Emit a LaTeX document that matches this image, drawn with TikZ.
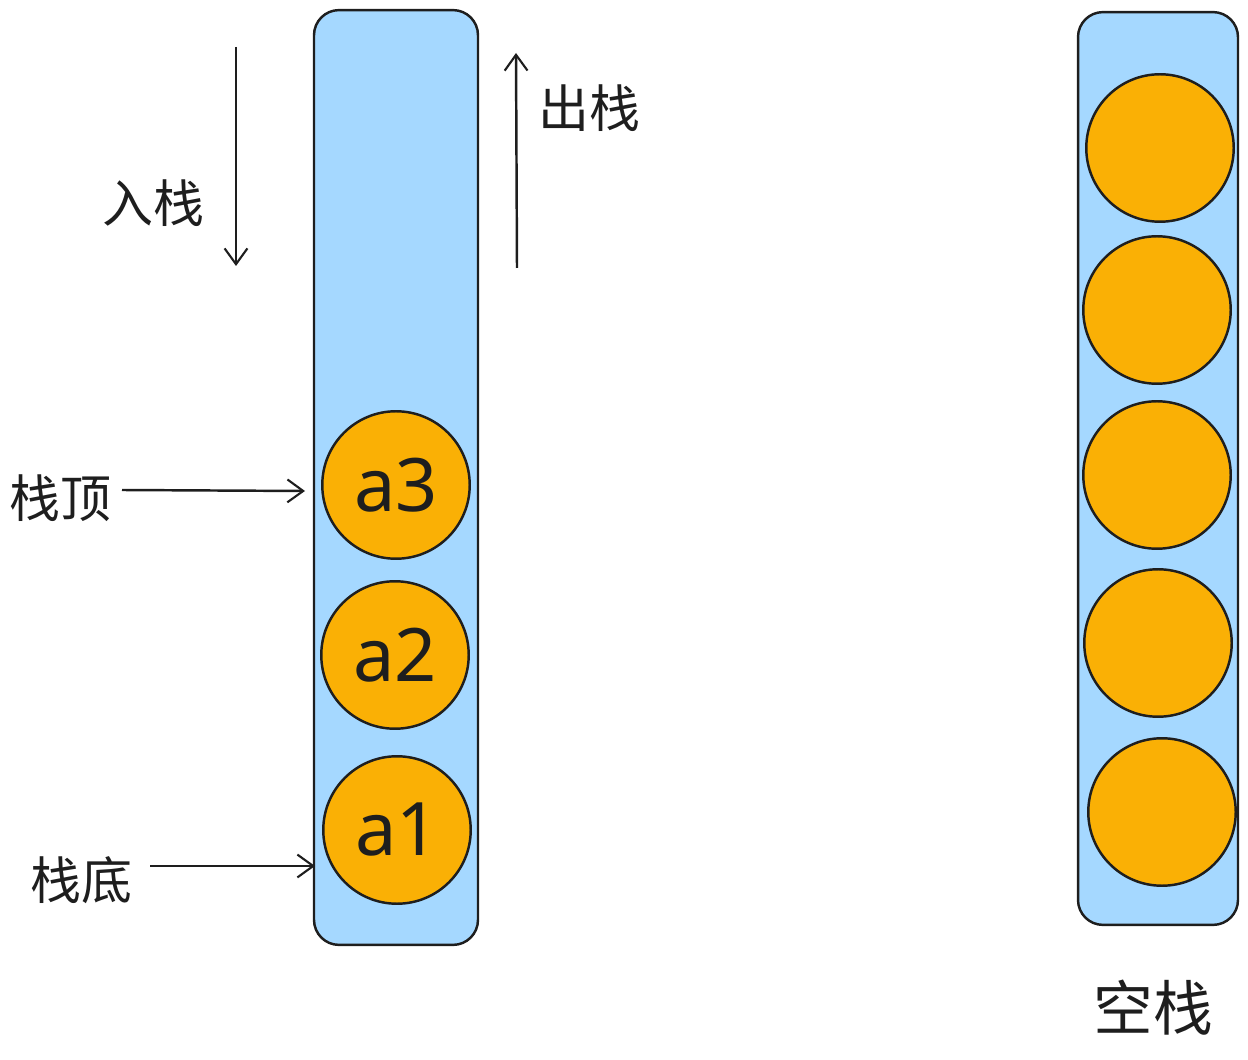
\documentclass[tikz,border=0pt]{standalone}
\usepackage{fontspec}
\newfontfamily\cjk{Noto Sans CJK SC}
\newfontfamily\handfont{Noto Sans}
\usetikzlibrary{arrows.meta}
\definecolor{stk}{HTML}{A5D8FF}
\definecolor{ball}{HTML}{FAB005}
\definecolor{ink}{HTML}{1E1E1E}
\tikzset{
  stackbox/.style={draw=ink, fill=stk, line width=1.4pt, rounded corners=0.5cm, inner sep=0pt},
  ballnode/.style={circle, draw=ink, fill=ball, line width=1.4pt, inner sep=0pt, minimum size=2.95cm, font=\handfont\bfseries\fontsize{42}{42}\selectfont, text=ink},
  arr/.style={draw=ink, line width=1.4pt, -{Straight Barb[length=9pt,width=13pt,line width=1.2pt]}},
  lbl/.style={font=\cjk\fontsize{29}{32}\selectfont, text=ink, inner sep=0pt},
}
\begin{document}
\begin{tikzpicture}[x=0.02cm, y=-0.02cm]
\useasboundingbox (0,0) rectangle (1248,1060);
% left stack
\node[stackbox, minimum width=3.28cm, minimum height=18.7cm] (stackL) at (396,477.5) {};
\node[ballnode] (a3) at (396,485) {a3};
\node[ballnode] (a2) at (395,655) {a2};
\node[ballnode] (a1) at (397,830) {a1};
% right stack
\node[stackbox, minimum width=3.2cm, minimum height=18.26cm] (stackR) at (1158,468.5) {};
\node[ballnode] (b1) at (1160,148) {};
\node[ballnode] (b2) at (1157,310) {};
\node[ballnode] (b3) at (1157,475) {};
\node[ballnode] (b4) at (1158,643) {};
\node[ballnode] (b5) at (1162,812) {};
% labels
\node[lbl] (push) at (153,203) {入栈};
\node[lbl] (pop) at (589,108) {出栈};
\node[lbl] (top) at (60,498) {栈顶};
\node[lbl] (bottom) at (81,880) {栈底};
\node[lbl, font=\cjk\fontsize{34}{38}\selectfont] (empty) at (1153,1008) {空栈};
% arrow end points
\coordinate (pushS) at (236,47);
\coordinate (pushE) at (236,266);
\coordinate (popS) at (517,268);
\coordinate (popE) at (516,53);
\coordinate (topS) at (122,490);
\coordinate (topE) at (305,491);
\coordinate (botS) at (150,866);
\coordinate (botE) at (315,866);
\draw[arr] (pushS) -- (pushE);
\draw[arr] (popS) -- (popE);
\draw[arr] (topS) -- (topE);
\draw[arr] (botS) -- (botE);
\end{tikzpicture}
\end{document}
